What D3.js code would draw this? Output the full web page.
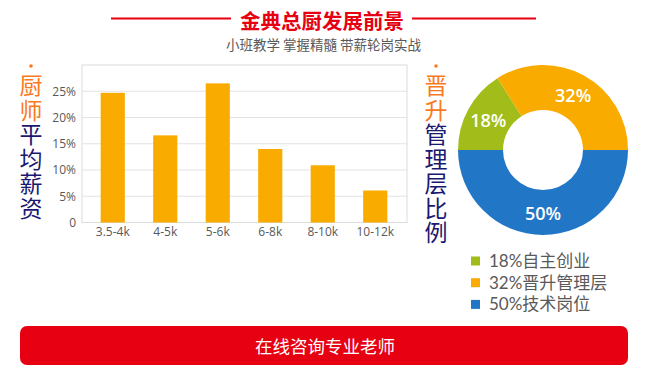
<!DOCTYPE html>
<html lang="zh">
<head>
<meta charset="UTF-8">
<title>金典总厨发展前景</title>
<script src="https://cdn.jsdelivr.net/npm/d3@7/dist/d3.min.js"></script>
<style>
  body { margin: 0; background: #fff; }
  svg { display: block; font-family: "Noto Sans CJK SC", "Open Sans", sans-serif; }
</style>
</head>
<body>
<svg id="chart" width="648" height="378"></svg>
<script>
// 薪资分布
const salaryRanges = ["3.5-4k", "4-5k", "5-6k", "6-8k", "8-10k", "10-12k"];
const salaryShare = [24.7, 16.6, 26.5, 14.0, 10.9, 6.1];
const yTicks = [0, 5, 10, 15, 20, 25];

// 晋升比例 (扇区按图上实际角度)
const careerNames = ["技术岗位", "自主创业", "晋升管理层"];
const careerShare = [50, 16, 34];
const careerLabels = ["50%", "18%", "32%"];
const legendOrder = [1, 2, 0];

const titleText = "金典总厨发展前景";
const subText = "小班教学 掌握精髓 带薪轮岗实战";
const btnText = "在线咨询专业老师";
const leftTitle = ["厨师", "平均薪资"];
const rightTitle = ["晋升", "管理层比例"];

const red = "#e60012", orange = "#f97a1e", navy = "#1a1870", gray = "#595959";
const pieColors = ["#2177c6", "#a2bd1a", "#f9ab00"];

const svg = d3.select("#chart");

// 标题
svg.append("line").attr("x1", 111).attr("x2", 231).attr("y1", 18.5).attr("y2", 18.5)
  .attr("stroke", red).attr("stroke-width", 2);
svg.append("line").attr("x1", 412).attr("x2", 536).attr("y1", 18.5).attr("y2", 18.5)
  .attr("stroke", red).attr("stroke-width", 2);
svg.append("text").attr("x", 322).attr("y", 20).attr("text-anchor", "middle")
  .attr("dominant-baseline", "central").attr("font-size", 20.5).attr("font-weight", "bold")
  .attr("fill", red).text(titleText);
svg.append("text").attr("x", 323.5).attr("y", 43.5).attr("text-anchor", "middle")
  .attr("dominant-baseline", "central").attr("font-size", 13.5).attr("fill", gray).text(subText);

// 竖排标题
function vTitle(parts, x) {
  svg.append("circle").attr("cx", x).attr("cy", 66).attr("r", 1.8).attr("fill", orange);
  const t = svg.append("text").attr("x", x).attr("y", 74)
    .attr("writing-mode", "vertical-rl").attr("letter-spacing", 1.5)
    .attr("font-size", 23).attr("font-weight", 400);
  parts.forEach((p, i) => t.append("tspan").attr("fill", i === 0 ? orange : navy).text(p));
}
vTitle(leftTitle, 31);
vTitle(rightTitle, 436);

// 柱状图
const plot = { left: 82, right: 407, top: 65, bottom: 222.5 };
const x = d3.scaleBand().domain(salaryRanges).range([86.5, 401.5]).paddingInner(0.54).paddingOuter(0.27);
const y = d3.scaleLinear().domain([0, 30]).range([plot.bottom, plot.top]);

const g = svg.append("g");
g.selectAll(".grid").data(yTicks.slice(1)).enter().append("line")
  .attr("x1", plot.left).attr("x2", plot.right)
  .attr("y1", d => y(d)).attr("y2", d => y(d))
  .attr("stroke", "#e3e3e3").attr("stroke-width", 1);
g.append("rect").attr("x", plot.left).attr("y", plot.top)
  .attr("width", plot.right - plot.left).attr("height", plot.bottom - plot.top)
  .attr("fill", "none").attr("stroke", "#dcdcdc");

g.selectAll(".bar").data(salaryShare).enter().append("rect")
  .attr("x", (d, i) => x(salaryRanges[i]))
  .attr("y", d => y(d))
  .attr("width", x.bandwidth())
  .attr("height", d => y(0) - y(d))
  .attr("fill", "#f9ab00");

const yAxis = d3.axisLeft(y).tickValues(yTicks).tickSize(0).tickPadding(6)
  .tickFormat(d => d === 0 ? "0" : d + "%");
g.append("g").attr("transform", `translate(${plot.left},0)`).call(yAxis)
  .call(a => a.select(".domain").remove())
  .selectAll("text").attr("font-size", 12).attr("fill", gray)
  .attr("font-family", "Open Sans, sans-serif");

const xAxis = d3.axisBottom(x).tickSize(0).tickPadding(5);
g.append("g").attr("transform", `translate(0,${plot.bottom})`).call(xAxis)
  .call(a => a.select(".domain").remove())
  .selectAll("text").attr("font-size", 12).attr("fill", gray)
  .attr("font-family", "Open Sans, sans-serif");

// 环形图
const cx = 543, cy = 150;
const pie = d3.pie().sort(null).startAngle(Math.PI / 2).endAngle(Math.PI * 2.5);
const arc = d3.arc().innerRadius(40).outerRadius(85);
const arcs = pie(careerShare);
const pg = svg.append("g").attr("transform", `translate(${cx},${cy})`);
pg.selectAll("path").data(arcs).enter().append("path")
  .attr("d", arc).attr("fill", (d, i) => pieColors[i]);
pg.selectAll(".lbl").data(arcs).enter().append("text")
  .attr("transform", d => `translate(${arc.centroid(d)})`)
  .attr("text-anchor", "middle").attr("dominant-baseline", "central")
  .attr("font-family", "Open Sans, sans-serif").attr("font-size", 18).attr("font-weight", 600)
  .attr("fill", "#fff").text((d, i) => careerLabels[i]);

// 图例
const legendStep = 21.7;
const lg = svg.append("g");
lg.selectAll("rect").data(legendOrder).enter().append("rect")
  .attr("x", 471).attr("y", (k, row) => 256.5 + row * legendStep)
  .attr("width", 9).attr("height", 9).attr("fill", k => pieColors[k]);
lg.selectAll("text").data(legendOrder).enter().append("text")
  .attr("x", 489).attr("y", (k, row) => 267 + row * legendStep)
  .attr("font-family", "Lato, 'Noto Sans CJK SC', sans-serif")
  .attr("font-size", 17).attr("fill", gray)
  .text(k => careerLabels[k] + careerNames[k]);

// 按钮
svg.append("rect").attr("x", 20).attr("y", 326).attr("width", 608).attr("height", 39)
  .attr("rx", 7).attr("fill", red);
svg.append("text").attr("x", 325).attr("y", 345.5).attr("text-anchor", "middle")
  .attr("dominant-baseline", "central").attr("font-size", 17.5).attr("fill", "#fff").text(btnText);
</script>
</body>
</html>
